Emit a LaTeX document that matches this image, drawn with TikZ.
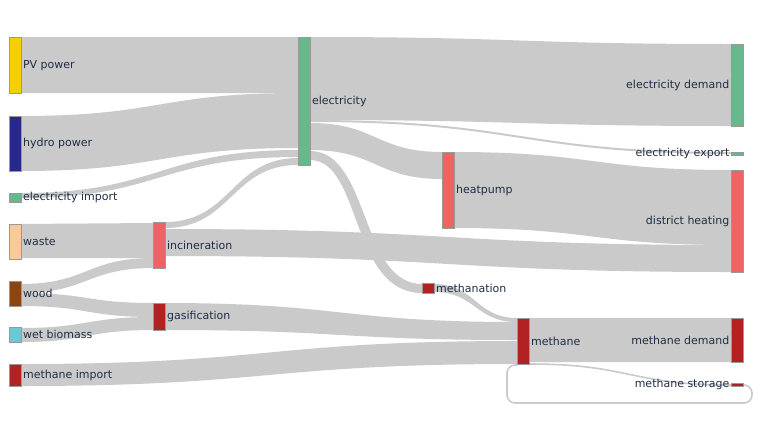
\documentclass[tikz,border=0pt]{standalone}
\usepackage{fontspec}
\setmainfont{DejaVu Sans}
\begin{document}
\definecolor{lnk}{HTML}{CACACA}
\definecolor{txt}{HTML}{1F2D45}
\definecolor{cpv}{HTML}{F5D000}
\definecolor{chy}{HTML}{28288C}
\definecolor{cel}{HTML}{66B98A}
\definecolor{cwa}{HTML}{FCC99A}
\definecolor{cwo}{HTML}{8B4513}
\definecolor{cwb}{HTML}{6CC8D6}
\definecolor{cme}{HTML}{B22222}
\definecolor{chp}{HTML}{EE6464}
\newcommand{\band}[6]{%
  \fill[lnk] (#1,#2) .. controls ({(#1+#4)/2},#2) and ({(#1+#4)/2},#5) .. (#4,#5)
    -- (#4,#6) .. controls ({(#1+#4)/2},#6) and ({(#1+#4)/2},#3) .. (#1,#3) -- cycle;}
\begin{tikzpicture}[x=1pt,y=-1pt,
  nd/.style={draw=black!40,line width=0.4pt,anchor=north west,inner sep=0pt,minimum width=12pt},
  lb/.style={text=txt,font=\fontsize{11}{13}\selectfont,inner sep=1.5pt}]
\useasboundingbox (0,0) rectangle (760,440);
% links
\band{21}{37}{93}{298}{37}{93}
\band{21}{116}{171}{298}{93}{148}
\band{21}{193}{198}{298}{150}{157}
\band{165}{222}{228}{298}{158}{165}
\band{21}{224}{258}{153}{223}{258}
\band{21}{284}{293}{153}{258}{268}
\band{21}{293}{306}{153}{303}{317}
\band{21}{328}{342}{153}{317}{330}
\band{165}{229}{256}{731}{245}{272}
\band{165}{303}{330}{517}{322}{340}
\band{21}{364}{386}{517}{341}{364}
\band{310}{37}{120}{731}{44}{126}
\band{310}{120}{122}{731}{152}{154}
\band{310}{123}{150}{442}{152}{179}
\band{454}{152}{228}{731}{170}{245}
\band{434}{284}{292}{517}{318}{322}
\fill[lnk] (310,151) .. controls (370,151) and (360,284) .. (422,284) -- (422,293) .. controls (350,293) and (362,160) .. (310,160) -- cycle;
\band{529}{318}{362}{731}{318}{362}
\draw[lnk,line width=1.6pt] (529,364) .. controls (630,364) and (630,385) .. (731,385);
\draw[lnk,line width=1.6pt,rounded corners=8pt] (743,385) -- (752,385) -- (752,403) -- (507,403) -- (507,365) -- (517,365);
% nodes
\node[nd,fill=cpv,minimum height=56pt] (pv) at (9,37) {};
\node[nd,fill=chy,minimum height=55pt] (hy) at (9,116) {};
\node[nd,fill=cel,minimum height=9pt] (ei) at (9,193) {};
\node[nd,fill=cwa,minimum height=35pt] (wa) at (9,224) {};
\node[nd,fill=cwo,minimum height=25pt] (wo) at (9,281) {};
\node[nd,fill=cwb,minimum height=15pt] (wb) at (9,327) {};
\node[nd,fill=cme,minimum height=22pt] (mi) at (9,364) {};
\node[nd,fill=chp,minimum height=46pt] (in) at (153,222) {};
\node[nd,fill=cme,minimum height=27pt] (ga) at (153,303) {};
\node[nd,fill=cel,minimum height=128pt] (el) at (298,37) {};
\node[nd,fill=chp,minimum height=76pt] (hp) at (442,152) {};
\node[nd,fill=cme,minimum height=10pt] (mn) at (422,283) {};
\node[nd,fill=cme,minimum height=46pt] (me) at (517,318) {};
\node[nd,fill=cel,minimum height=82pt] (ed) at (731,44) {};
\node[nd,fill=cel,minimum height=3pt] (ex) at (731,152) {};
\node[nd,fill=chp,minimum height=102pt] (dh) at (731,170) {};
\node[nd,fill=cme,minimum height=44pt] (md) at (731,318) {};
\node[nd,fill=cme,minimum height=3pt] (ms) at (731,383) {};
% labels
\node[lb,anchor=west] at (pv.east) {PV power};
\node[lb,anchor=west] at (hy.east) {hydro power};
\node[lb,anchor=west] at (ei.east) {electricity import};
\node[lb,anchor=west] at (wa.east) {waste};
\node[lb,anchor=west] at (wo.east) {wood};
\node[lb,anchor=west] at (wb.east) {wet biomass};
\node[lb,anchor=west] at (mi.east) {methane import};
\node[lb,anchor=west] at (in.east) {incineration};
\node[lb,anchor=west] at (ga.east) {gasification};
\node[lb,anchor=west] at (el.east) {electricity};
\node[lb,anchor=west] at (hp.east) {heatpump};
\node[lb,anchor=west] at (mn.east) {methanation};
\node[lb,anchor=west] at (me.east) {methane};
\node[lb,anchor=east] at (ed.west) {electricity demand};
\node[lb,anchor=east] at (ex.west) {electricity export};
\node[lb,anchor=east] at (dh.west) {district heating};
\node[lb,anchor=east] at (md.west) {methane demand};
\node[lb,anchor=east] at (ms.west) {methane storage};
\end{tikzpicture}
\end{document}
